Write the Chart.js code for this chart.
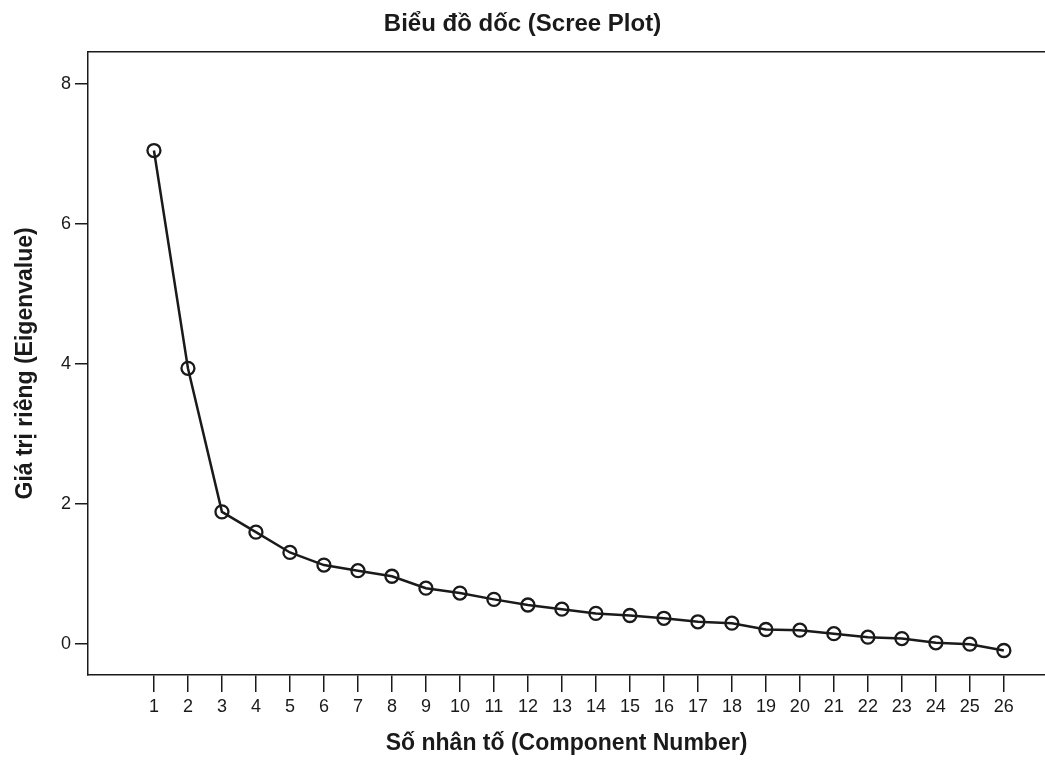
<!DOCTYPE html>
<html>
<head>
<meta charset="utf-8">
<script src="https://cdn.jsdelivr.net/npm/chart.js@4"></script>
<style>
  body { margin: 0; background: #fff; }
  #wrap { width: 1045px; height: 765px; }
</style>
</head>
<body>
<div id="wrap"><canvas id="myChart" width="1045" height="765"></canvas></div>
<script>
// values
var components = [1,2,3,4,5,6,7,8,9,10,11,12,13,14,15,16,17,18,19,20,21,22,23,24,25,26]
var eigenvalues = [7.05, 3.94, 1.89, 1.60, 1.31, 1.13, 1.05, 0.97, 0.80, 0.73, 0.64, 0.56, 0.50,
                   0.44, 0.41, 0.37, 0.32, 0.30, 0.21, 0.20, 0.15, 0.10, 0.08, 0.02, 0.00, -0.09]
var yTicks = [0, 2, 4, 6, 8]

var titleText = 'Biểu đồ dốc (Scree Plot)'
var xTitle = 'Số nhân tố (Component Number)'
var yTitle = 'Giá trị riêng (Eigenvalue)'

const ctx = document.getElementById('myChart');
var points = components.map((c, i) => ({x: c, y: eigenvalues[i]}))
var ink = '#1a1a1a'
var fontFamily = '"Liberation Sans", Arial, sans-serif'

function fitX(h) {
  return (s) => { s.height = h; s.paddingLeft = 0; s.paddingRight = 0 }
}

var chart = new Chart(ctx, {
  type: 'line',
  data: {
    datasets: [{
      label: 'Eigenvalue',
      data: points,
      borderColor: ink,
      borderWidth: 2.5,
      tension: 0,
      fill: false,
      pointRadius: 6.5,
      pointBorderWidth: 2.3,
      pointBackgroundColor: 'rgba(255,255,255,0)',
      pointBorderColor: ink
    }]
  },
  options: {
    responsive: false,
    devicePixelRatio: 1,
    animation: false,
    // frame runs right off the edge in the scan, so no room kept for point overflow
    layout: {padding: 0, autoPadding: false},
    plugins: {
      legend: {display: false},
      tooltip: {enabled: false},
      title: {
        display: true,
        text: titleText,
        color: ink,
        font: {family: fontFamily, size: 24, weight: 'bold'},
        padding: {top: 10, bottom: 13}
      }
    },
    scales: {
      x: {
        type: 'linear',
        position: 'bottom',
        min: -0.94,
        max: 27.21,
        afterBuildTicks: (s) => { s.ticks = components.map(v => ({value: v})) },
        afterFit: fitX(90),
        border: {display: true, color: ink, width: 1.5},
        grid: {drawOnChartArea: false, drawTicks: true, tickLength: 17, color: ink, lineWidth: 1.5},
        ticks: {color: ink, padding: 4, maxRotation: 0, autoSkip: false,
                font: {family: fontFamily, size: 18}},
        title: {display: true, text: xTitle, color: ink,
                font: {family: fontFamily, size: 23, weight: 'bold'},
                padding: {top: 0, bottom: 8}}
      },
      xTop: {
        type: 'linear',
        position: 'top',
        min: -0.94,
        max: 27.21,
        afterBuildTicks: (s) => { s.ticks = components.map(v => ({value: v})) },
        afterFit: fitX(0),
        border: {display: true, color: ink, width: 1.5},
        grid: {display: false},
        ticks: {display: false}
      },
      y: {
        type: 'linear',
        min: -0.44,
        max: 8.46,
        afterBuildTicks: (s) => { s.ticks = yTicks.map(v => ({value: v})) },
        afterFit: (s) => { s.width = 88 },
        border: {display: true, color: ink, width: 1.5},
        grid: {drawOnChartArea: false, drawTicks: true, tickLength: 13, color: ink, lineWidth: 1.5},
        ticks: {color: ink, padding: 4, font: {family: fontFamily, size: 18}},
        title: {display: true, text: yTitle, color: ink,
                font: {family: fontFamily, size: 23, weight: 'bold'},
                padding: {top: 12, bottom: 0}}
      }
    }
  }
})
</script>
</body>
</html>
